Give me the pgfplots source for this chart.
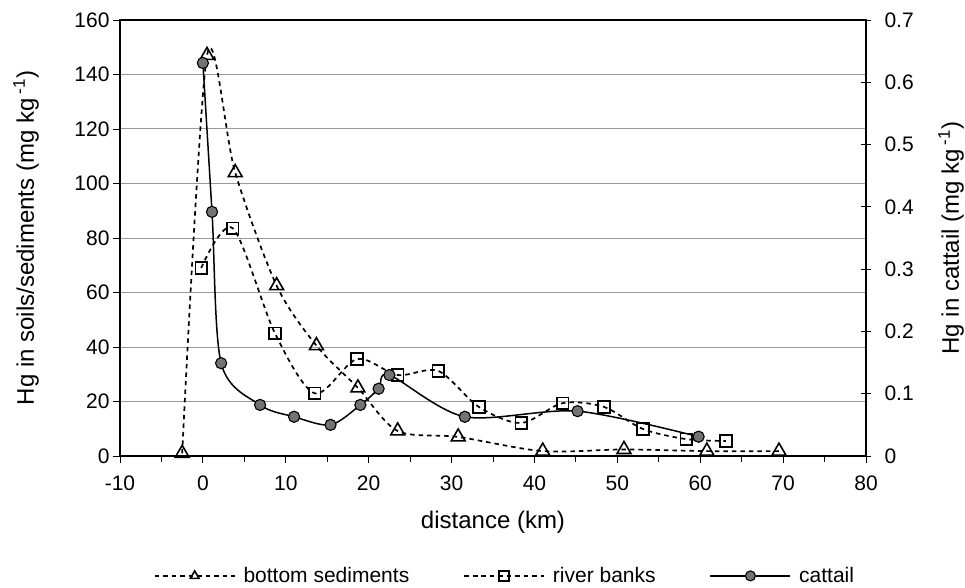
\documentclass[border=0pt]{standalone}
\usepackage{fontspec}
\setmainfont{Liberation Sans}
\usepackage{pgfplots}
\usepackage{pgfplotstable}
\pgfplotsset{compat=1.18}

% Hg in bottom sediments (mg/kg) vs distance (km)
\pgfplotstableread{
x y
-2.5 1
0.5 147
3.9 104
8.9 62.5
13.7 40.5
18.7 25
23.5 9.2
30.8 7
41.0 1.8
50.8 2.4
60.8 1.8
69.5 1.8
}\sediments

% Hg in river banks (mg/kg)
\pgfplotstableread{
x y
-0.2 69
3.6 83.6
8.7 45
13.5 23
18.6 35.6
23.5 29.7
28.4 31.2
33.3 18
38.4 12.1
43.4 19.4
48.4 18
53.1 9.9
58.3 6.2
63.1 5.5
}\banks

% Hg in cattail (mg/kg)
\pgfplotstableread{
x y
0 0.631
1.1 0.392
2.2 0.149
6.9 0.082
11.0 0.063
15.4 0.050
19.0 0.082
21.2 0.108
22.5 0.130
31.6 0.063
45.2 0.072
59.8 0.031
}\cattail

\pgfplotsset{
  sed/.style={black, line width=1.7pt, dash pattern=on 4.5pt off 4pt, smooth,
    mark=triangle, mark size=8pt, mark options={solid, fill=white, line width=1.6pt}},
  bank/.style={black, line width=1.7pt, dash pattern=on 4.5pt off 4pt, smooth,
    mark=square, mark size=5.8pt, mark options={solid, fill=white, line width=1.6pt}},
  cat/.style={black, line width=1.5pt, smooth,
    mark=*, mark size=5.6pt, mark options={solid, fill=black!55, draw=black, line width=1.1pt}},
  common/.style={
    at={(120pt,131pt)}, anchor=south west,
    width=746pt, height=436pt, scale only axis,
    xmin=-10, xmax=80,
    tick label style={font=\fontsize{21}{25}\selectfont},
    label style={font=\fontsize{24}{28}\selectfont},
    /pgf/number format/assume math mode=true,
    axis line style={line width=1.2pt},
  },
}

\begin{document}
\begin{tikzpicture}[x=1pt,y=1pt]
\begin{axis}[
  common,
  ymin=0, ymax=160,
  xtick={-10,0,...,80}, minor x tick num=1,
  ytick={0,20,...,160},
  xtick pos=bottom, ytick pos=left,
  tick align=outside,
  major tick length=7pt, minor tick length=6pt,
  tick style={black, line width=0.8pt},
  ymajorgrids,
  major grid style={gray!80, line width=1pt},
  xticklabel style={yshift=-9pt},
  xlabel={distance (km)},
  ylabel={Hg in soils/sediments (mg kg\,\textsuperscript{-1})},
  xlabel style={at={(axis description cs:0.5,-0.151)}, anchor=center},
  ylabel style={at={(axis description cs:-0.126,0.5)}, anchor=center},
]
\addplot[sed] table {\sediments};
\addplot[bank] table {\banks};
\end{axis}

\begin{axis}[
  common,
  ymin=0, ymax=0.7,
  axis x line=none,
  axis y line*=right,
  ytick={0,0.1,...,0.7},
  ytick align=center,
  major tick length=10pt,
  tick style={black, line width=0.8pt},
  yticklabel style={/pgf/number format/fixed, /pgf/number format/precision=1, xshift=10pt},
  ylabel={Hg in cattail (mg kg\,\textsuperscript{-1})},
  ylabel style={at={(axis description cs:1.114,0.5)}, anchor=center, rotate=0},
  legend columns=3,
  legend style={at={(axis description cs:0.516,-0.275)}, anchor=center,
    draw=none, fill=none, font=\fontsize{21}{25}\selectfont,
    /tikz/every odd column/.append style={column sep=6pt},
    /tikz/every even column/.append style={column sep=52pt}},
  legend image code/.code={
    \draw[mark repeat=2, mark phase=2, mark size=5pt]
      plot coordinates {(0pt,0pt) (40pt,0pt) (80pt,0pt)};
  },
]
\addlegendimage{sed}
\addlegendentry{bottom sediments}
\addlegendimage{bank}
\addlegendentry{river banks}
\addplot[cat] table {\cattail};
\addlegendentry{cattail}
\end{axis}
\pgfresetboundingbox
\useasboundingbox (0,0) rectangle (965,587);
\end{tikzpicture}
\end{document}
